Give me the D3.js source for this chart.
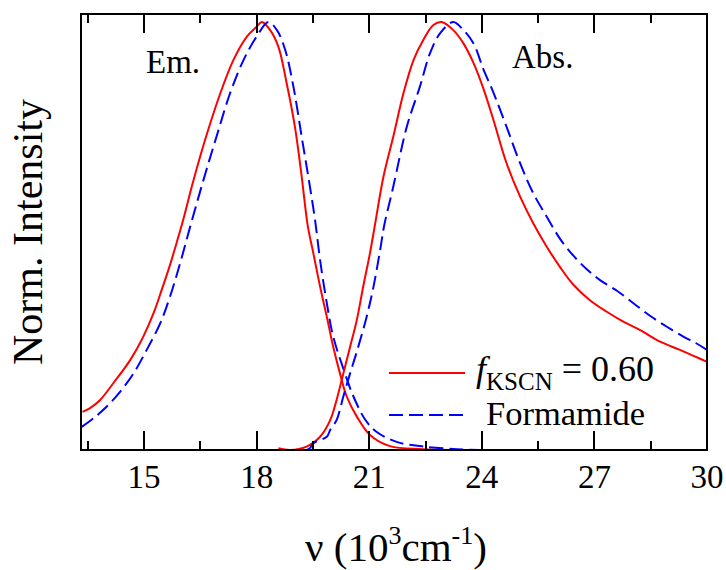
<!DOCTYPE html>
<html>
<head>
<meta charset="utf-8">
<script src="https://cdn.jsdelivr.net/npm/d3@7"></script>
<style>
  html, body { margin: 0; padding: 0; background: #fff; }
  svg { display: block; }
  text { font-family: "Liberation Serif", "Times New Roman", serif; fill: #000; }
</style>
</head>
<body>
<svg id="chart" width="726" height="570"></svg>
<script>
// Wavenumber (10^3 cm^-1) and normalised intensity for each spectrum
const emKscnX = [13.36, 13.56, 13.83, 14.18, 14.63, 14.98, 15.25, 15.47, 15.69, 15.87, 16.04, 16.31, 16.67, 17.03, 17.38, 17.74, 18.0, 18.14, 18.36, 18.58, 18.80, 19.02, 19.20, 19.36, 19.51, 19.69, 19.87, 20.04, 20.22, 20.40, 20.67, 21.02, 21.55, 22.43, 23.8];
const emKscnY = [0.089, 0.098, 0.117, 0.156, 0.21, 0.265, 0.319, 0.374, 0.432, 0.485, 0.537, 0.628, 0.737, 0.833, 0.911, 0.966, 0.989, 1.0, 0.981, 0.942, 0.857, 0.755, 0.639, 0.525, 0.46, 0.382, 0.311, 0.241, 0.179, 0.125, 0.078, 0.035, 0.009, 0.002, 0.0];

const emFormX = [13.34, 13.65, 14.0, 14.36, 14.72, 15.07, 15.43, 15.69, 15.96, 16.23, 16.58, 16.94, 17.29, 17.65, 18.0, 18.31, 18.54, 18.76, 18.98, 19.20, 19.42, 19.56, 19.69, 19.87, 20.04, 20.31, 20.58, 20.9, 21.2, 21.73, 22.44, 23.33, 23.95];
const emFormY = [0.054, 0.074, 0.101, 0.136, 0.179, 0.234, 0.296, 0.358, 0.436, 0.522, 0.63, 0.735, 0.833, 0.911, 0.966, 1.0, 0.981, 0.935, 0.849, 0.732, 0.615, 0.535, 0.444, 0.343, 0.265, 0.19, 0.125, 0.07, 0.042, 0.019, 0.008, 0.002, 0.0];

const absKscnX = [18.58, 18.89, 19.33, 19.69, 19.96, 20.13, 20.31, 20.49, 20.67, 20.84, 21.02, 21.15, 21.38, 21.64, 21.91, 22.18, 22.44, 22.71, 22.93, 23.24, 23.51, 23.78, 24.04, 24.31, 24.66, 25.02, 25.37, 25.73, 26.08, 26.44, 26.88, 27.33, 27.77, 28.22, 28.75, 29.28, 29.64, 30.0];
const absKscnY = [0.004, 0.0, 0.008, 0.031, 0.07, 0.117, 0.179, 0.241, 0.304, 0.382, 0.46, 0.525, 0.639, 0.732, 0.833, 0.911, 0.958, 0.993, 1.0, 0.981, 0.95, 0.904, 0.845, 0.771, 0.67, 0.592, 0.53, 0.475, 0.428, 0.386, 0.35, 0.323, 0.30, 0.28, 0.253, 0.234, 0.22, 0.206];

const absFormX = [19.33, 19.42, 19.51, 19.87, 19.96, 20.13, 20.31, 20.49, 20.67, 20.93, 21.11, 21.29, 21.40, 21.64, 22.0, 22.35, 22.62, 22.89, 23.24, 23.51, 23.78, 24.04, 24.31, 24.66, 25.02, 25.37, 25.73, 26.08, 26.44, 26.79, 27.15, 27.6, 28.04, 28.49, 28.93, 29.37, 29.7, 30.0];
const absFormY = [0.0, 0.004, 0.016, 0.031, 0.047, 0.07, 0.125, 0.179, 0.23, 0.311, 0.38, 0.467, 0.525, 0.615, 0.755, 0.849, 0.927, 0.974, 1.0, 0.981, 0.95, 0.89, 0.835, 0.755, 0.67, 0.60, 0.545, 0.494, 0.454, 0.423, 0.397, 0.372, 0.343, 0.313, 0.288, 0.265, 0.25, 0.234];

const majorTicks = [15, 18, 21, 24, 27, 30];
const minorTicks = [13.5, 16.5, 19.5, 22.5, 25.5, 28.5];
const tickLabels = ["15", "18", "21", "24", "27", "30"];

const RED = "#ff0000";
const BLUE = "#0000ff";
const DASH = "14,6";

const svg = d3.select("#chart");
const plotLeft = 81, plotRight = 707, plotTop = 14, plotBottom = 450;

const xScale = d3.scaleLinear().domain([13.32, 30]).range([plotLeft, plotRight]);
const yScale = d3.scaleLinear().domain([0, 1.0]).range([plotBottom, plotTop + 8]);

const zip = (xs, ys) => xs.map((v, i) => [v, ys[i]]);
const lineGen = d3.line().x(d => xScale(d[0])).y(d => yScale(d[1])).curve(d3.curveCatmullRom.alpha(0.5));

svg.append("clipPath").attr("id", "plot-clip")
  .append("rect").attr("x", plotLeft).attr("y", plotTop)
  .attr("width", plotRight - plotLeft).attr("height", plotBottom - plotTop);

const curves = svg.append("g").attr("clip-path", "url(#plot-clip)");
const series = [
  { pts: zip(emKscnX, emKscnY), color: RED, dash: null },
  { pts: zip(emFormX, emFormY), color: BLUE, dash: DASH },
  { pts: zip(absKscnX, absKscnY), color: RED, dash: null },
  { pts: zip(absFormX, absFormY), color: BLUE, dash: DASH }
];
series.forEach(s => {
  curves.append("path")
    .attr("d", lineGen(s.pts))
    .attr("fill", "none")
    .attr("stroke", s.color)
    .attr("stroke-width", 2)
    .attr("stroke-dasharray", s.dash);
});

// Frame outline; the top and bottom edges carry inward tick spikes
const allTicks = majorTicks.map(v => ({ v, len: 19 }))
  .concat(minorTicks.map(v => ({ v, len: 9 })))
  .sort((a, b) => a.v - b.v);
function edgeWithTicks(yEdge, dir) {
  let d = `M${plotLeft},${yEdge}`;
  allTicks.forEach(t => {
    const px = Math.round(xScale(t.v));
    d += `L${px},${yEdge}L${px},${yEdge + dir * t.len}L${px},${yEdge}`;
  });
  d += `L${plotRight},${yEdge}`;
  return d;
}
const framePath = edgeWithTicks(plotBottom, -1) + edgeWithTicks(plotTop, 1) +
  `M${plotLeft},${plotTop}L${plotLeft},${plotBottom}M${plotRight},${plotTop}L${plotRight},${plotBottom}`;
svg.append("path")
  .attr("d", framePath)
  .attr("fill", "none")
  .attr("stroke", "#000")
  .attr("stroke-width", 2)
  .attr("stroke-linecap", "square");

// Tick labels
majorTicks.forEach((d, i) => {
  svg.append("text")
    .attr("x", xScale(d)).attr("y", 488)
    .attr("text-anchor", "middle")
    .style("font-size", "33px")
    .text(tickLabels[i]);
});

// Panel labels
svg.append("text").attr("x", 146).attr("y", 73).style("font-size", "33px").text("Em.");
svg.append("text").attr("x", 512).attr("y", 68).style("font-size", "33px").text("Abs.");

// Axis titles
svg.append("text")
  .attr("transform", "translate(42,232) rotate(-90)")
  .attr("text-anchor", "middle")
  .style("font-size", "42px")
  .text("Norm. Intensity");

const xt = svg.append("text")
  .attr("x", 396).attr("y", 561)
  .attr("text-anchor", "middle")
  .style("font-size", "41px");
xt.append("tspan").text("\u03bd (10");
xt.append("tspan").attr("dy", -17).style("font-size", "26px").text("3");
xt.append("tspan").attr("dy", 17).text("cm");
xt.append("tspan").attr("dy", -17).style("font-size", "26px").text("-1");
xt.append("tspan").attr("dy", 17).text(")");

// Legend
const legend = svg.append("g");
legend.append("line").attr("x1", 389).attr("x2", 465).attr("y1", 373).attr("y2", 373)
  .attr("stroke", RED).attr("stroke-width", 2);
legend.append("line").attr("x1", 389).attr("x2", 465).attr("y1", 415).attr("y2", 415)
  .attr("stroke", BLUE).attr("stroke-width", 2).attr("stroke-dasharray", DASH);

const l1 = legend.append("text").attr("x", 476).attr("y", 381).style("font-size", "36px");
l1.append("tspan").style("font-style", "italic").text("f");
l1.append("tspan").attr("dy", 9).style("font-size", "25px").text("KSCN");
l1.append("tspan").attr("dy", -9).text(" = 0.60");

legend.append("text").attr("x", 486).attr("y", 425).style("font-size", "34.5px").text("Formamide");
</script>
</body>
</html>
